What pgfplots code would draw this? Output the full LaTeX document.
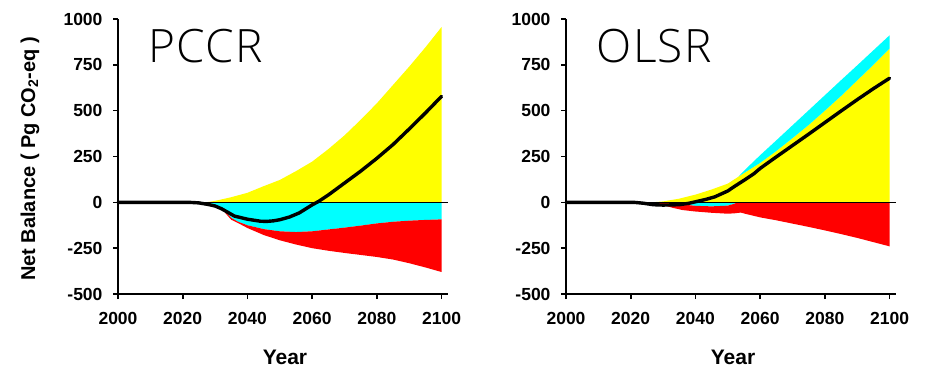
\documentclass[border=0pt]{standalone}
\usepackage{fontspec}
\setmainfont{Liberation Sans}
\newfontfamily\titlefont[LetterSpace=2.5]{Open Sans Light}
\usepackage{pgfplots}
\pgfplotsset{compat=1.18}
\definecolor{cyanf}{RGB}{0,255,255}
\definecolor{yellowf}{RGB}{255,255,0}
\definecolor{redf}{RGB}{255,0,0}
\pgfplotsset{
  panel/.style={
    scale only axis, width=330pt, height=275pt,
    xmin=2000, xmax=2102, ymin=-500, ymax=1000,
    axis x line*=bottom, axis y line*=left,
    axis line style={line width=1.6pt, -},
    xtick={2000,2020,...,2100}, ytick={-500,-250,...,1000},
    tick align=outside, major tick length=5pt,
    tick style={line width=1.6pt, black},
    tick label style={font=\fontsize{17.5}{17.5}\selectfont\bfseries},
    yticklabel style={xshift=-7pt},
    xticklabel style={yshift=-10pt},
    /pgf/number format/assume math mode=true,
    /pgf/number format/set thousands separator={},
    clip=false,
    xlabel={Year},
    every axis x label/.style={at={(rel axis cs:0.506,-0.229)}, anchor=center, font=\fontsize{21}{21}\selectfont\bfseries},
  },
}
\begin{document}
\begin{tikzpicture}[x=1pt,y=1pt]
\useasboundingbox (0,0) rectangle (928,373);
% ---------------- PCCR ----------------
\begin{axis}[panel, at={(118pt,79pt)}, anchor=south west,
  ylabel={Net Balance ( Pg CO\textsubscript{2}-eq )},
  every axis y label/.style={at={(rel axis cs:-0.267,0.491)}, rotate=90, anchor=center, font=\fontsize{20}{20}\selectfont\bfseries},
]
\addplot[fill=yellowf, draw=none] coordinates {
(2025,0) (2028,2) (2030,8) (2035,28) (2040,52) (2045,88) (2050,122) (2055,170) (2060,222) (2065,290) (2070,365) (2075,450) (2080,540) (2085,640) (2090,740) (2095,845) (2100,956) (2100,0)} -- cycle;
\addplot[fill=cyanf, draw=none] coordinates {
(2024,0) (2026,-4) (2028,-10) (2030,-20) (2032,-35) (2033,-48) (2035,-85) (2037,-105) (2040,-125) (2045,-146) (2050,-158) (2055,-162) (2060,-158) (2065,-148) (2070,-138) (2075,-127) (2080,-115) (2085,-106) (2090,-100) (2095,-96) (2100,-93) (2100,0)} -- cycle;
\addplot[fill=redf, draw=none] coordinates {
(2033,-48) (2035,-85) (2037,-105) (2040,-125) (2045,-146) (2050,-158) (2055,-162) (2060,-158) (2065,-148) (2070,-138) (2075,-127) (2080,-115) (2085,-106) (2090,-100) (2095,-96) (2100,-93)
(2100,-380) (2095,-355) (2090,-332) (2085,-312) (2080,-298) (2075,-287) (2070,-276) (2065,-264) (2060,-250) (2055,-230) (2050,-207) (2045,-178) (2040,-140) (2037,-112) (2035,-95) (2033,-55)} -- cycle;
\addplot[black, line width=0.8pt] coordinates {(2000,0) (2102,0)};
\addplot[black, line width=3.4pt, line join=round, line cap=round] coordinates {
(2000,0) (2022,0) (2025,-3) (2028,-12) (2030,-20) (2032,-35) (2034,-55) (2036,-75) (2040,-92) (2044,-103) (2046,-104) (2048,-101) (2050,-95) (2053,-80) (2056,-58) (2060,-14) (2062,5) (2065,40) (2070,105) (2075,170) (2080,240) (2085,315) (2090,400) (2095,487) (2100,578)};
\node[anchor=base west, inner sep=0, font=\titlefont\fontsize{46}{46}\selectfont] at (axis cs:2009.4,765) {PCCR};
\end{axis}
% ---------------- OLSR ----------------
\begin{axis}[panel, at={(566pt,79pt)}, anchor=south west]
\addplot[fill=yellowf, draw=none] coordinates {
(2025,0) (2028,2) (2030,5) (2035,20) (2040,42) (2045,70) (2050,102) (2053.3,140) (2055,160) (2060,215) (2065,280) (2070,350) (2075,422) (2080,500) (2085,580) (2090,665) (2095,750) (2100,838) (2100,0)} -- cycle;
\addplot[fill=cyanf, draw=none] coordinates {
(2053.3,140) (2055,172) (2060,257) (2065,338) (2070,420) (2075,502) (2080,584) (2085,666) (2090,747) (2095,829) (2100,911)
(2100,838) (2095,750) (2090,665) (2085,580) (2080,500) (2075,422) (2070,350) (2065,280) (2060,215) (2055,160)} -- cycle;
\addplot[fill=cyanf, draw=none] coordinates {
(2033,0) (2036,-12) (2040,-19) (2045,-22) (2050,-18) (2052,-8) (2053,0)} -- cycle;
\addplot[fill=redf, draw=none] coordinates {
(2026,0) (2033,0) (2036,-12) (2040,-19) (2045,-22) (2050,-18) (2052,-8) (2053,0) (2100,0)
(2100,-240) (2095,-217) (2090,-194) (2085,-173) (2080,-153) (2075,-134) (2070,-116) (2065,-98) (2060,-82) (2056,-65) (2054,-56) (2052,-60) (2050,-62) (2045,-57) (2040,-50) (2036,-42) (2033,-30) (2030,-15)} -- cycle;
\addplot[black, line width=0.8pt] coordinates {(2000,0) (2102,0)};
\addplot[black, line width=3.4pt, line join=round, line cap=round] coordinates {
(2000,0) (2021,0) (2024,-5) (2027,-13) (2030,-15) (2035,-13) (2038,-5) (2040,3) (2043,15) (2046,30) (2050,62) (2052,86) (2055,120) (2058,155) (2060,185) (2065,248) (2070,310) (2075,372) (2080,435) (2085,498) (2090,560) (2095,620) (2100,677)};
\node[anchor=base west, inner sep=0, font=\titlefont\fontsize{46}{46}\selectfont] at (axis cs:2009.5,765) {OLSR};
\end{axis}
\end{tikzpicture}
\end{document}
